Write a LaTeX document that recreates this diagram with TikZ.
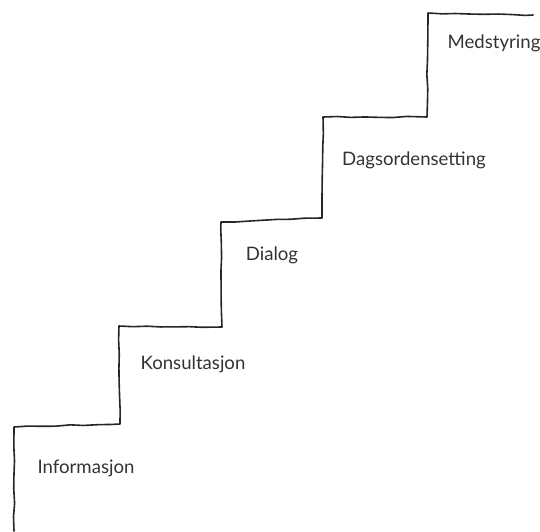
\documentclass[tikz,border=0pt]{standalone}
\usepackage{fontspec}
\setmainfont{Lato}
\usetikzlibrary{decorations.pathmorphing, positioning}

\begin{document}
\begin{tikzpicture}[
        x=0.5pt, y=-0.5pt,
        pen/.style={draw=black!85, line width=0.8pt, line join=round, line cap=round,
                    decorate, decoration={random steps, segment length=7pt, amplitude=0.3pt}},
        lbl/.style={font=\fontsize{9.3}{11}\selectfont, text=black!80, inner sep=0pt}
    ]
        \useasboundingbox (0,0) rectangle (540,531);

        % hjørnene i trappa
        \coordinate (b0) at (14,531);
        \coordinate (c1) at (14,427);
        \coordinate (d1) at (120,424);
        \coordinate (c2) at (119,326);
        \coordinate (d2) at (222,327);
        \coordinate (c3) at (221,222);
        \coordinate (d3) at (322,218);
        \coordinate (c4) at (323,117);
        \coordinate (d4) at (427,117);
        \coordinate (c5) at (428,13);
        \coordinate (e5) at (533,15);

        % trappa
        \draw[pen] (b0) -- (c1) -- (d1) -- (c2) -- (d2) -- (c3) -- (d3)
                   -- (c4) -- (d4) -- (c5) -- (e5);

        % trinnene
        \node[lbl] (info)  at (86,468)  {Informasjon};
        \node[lbl] (kons)  at (193,364) {Konsultasjon};
        \node[lbl] (dial)  at (272,255) {Dialog};
        \node[lbl] (dags)  at (414,160) {Dagsordensetting};
        \node[lbl] (meds)  at (494,43)  {Medstyring};

    \end{tikzpicture}
\end{document}
